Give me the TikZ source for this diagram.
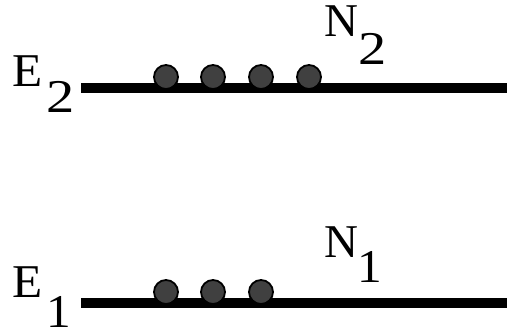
\documentclass[tikz,border=0pt]{standalone}
\usepackage{fontspec}
\setmainfont{Liberation Serif}
\begin{document}
\begin{tikzpicture}[x=1pt,y=-1pt,
  lvl/.style={line width=10pt},
  atom/.style={circle,draw=black,fill=black!75,line width=1.8pt,minimum size=24pt,inner sep=0pt},
  lbl/.style={anchor=base west,inner sep=0pt,font=\fontsize{47}{47}\selectfont}]
\useasboundingbox (0,0) rectangle (507,329);
% levels
\coordinate (l2a) at (81,88);
\coordinate (l2b) at (507,88);
\coordinate (l1a) at (81,303);
\coordinate (l1b) at (507,303);
\draw[lvl] (l2a) -- (l2b);
\draw[lvl] (l1a) -- (l1b);
% atoms upper
\node[atom] (u1) at (166,77) {};
\node[atom] (u2) at (213,77) {};
\node[atom] (u3) at (261,77) {};
\node[atom] (u4) at (309,77) {};
% atoms lower
\node[atom] (d1) at (166,292) {};
\node[atom] (d2) at (213,292) {};
\node[atom] (d3) at (261,292) {};
% labels
\node[lbl] (E2) at (12.5,87) {\scalebox{1.05}[1]{E}};
\node[lbl] (E2s) at (46,113) {\scalebox{1.2}[1]{2}};
\node[lbl] (N2) at (324.5,37) {N};
\node[lbl] (N2s) at (358,65) {\scalebox{1.2}[1]{2}};
\node[lbl] (E1) at (12.5,297) {\scalebox{1.05}[1]{E}};
\node[lbl] (E1s) at (46,327.5) {\scalebox{1.05}[1]{1}};
\node[lbl] (N1) at (324.5,257) {N};
\node[lbl] (N1s) at (357,282) {\scalebox{1.05}[1]{1}};
\end{tikzpicture}
\end{document}
